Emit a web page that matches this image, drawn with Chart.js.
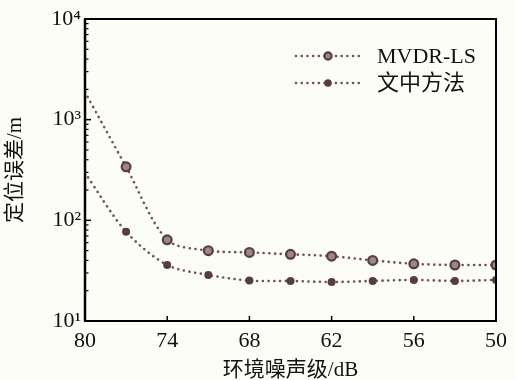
<!DOCTYPE html>
<html>
<head>
<meta charset="utf-8">
<script src="https://cdn.jsdelivr.net/npm/chart.js@4/dist/chart.umd.min.js"></script>
<style>
  html, body { margin: 0; padding: 0; background: #fdfdf8; }
  #wrap { width: 515px; height: 380px; }
</style>
</head>
<body>
<div id="wrap"><canvas id="c" width="515" height="380"></canvas></div>
<script>
const noiseLevels = [80, 77, 74, 71, 68, 65, 62, 59, 56, 53, 50];
const mvdrLS = [1880, 340, 64, 50, 48, 46, 44, 40, 37, 36, 36];
const proposed = [296, 77, 36, 28.7, 25.2, 25, 24.4, 25, 25.6, 25, 25.6];
const seriesNames = ['MVDR-LS', '文中方法'];
const xTickValues = [80, 74, 68, 62, 56, 50];
const yTickValues = [10, 100, 1000, 10000];
const yTickLabels = ['10¹', '10²', '10³', '10⁴'];
const xTitle = '环境噪声级/dB';
const yTitle = '定位误差/m';

const FONT = '"Liberation Serif", "Times New Roman", "Noto Sans CJK SC", serif';
const LINE_COLOR = '#735550';
const MARK_COLOR = '#553f3b';
const RING_FILL = '#9c8884';

const toPts = arr => noiseLevels.map((x, i) => ({ x: x, y: arr[i] }));
const radii = (r) => noiseLevels.map((x, i) => i === 0 ? 0 : r);

const bgPlugin = {
  id: 'bg',
  beforeDraw(chart) {
    const ctx = chart.ctx;
    ctx.save();
    ctx.fillStyle = '#fdfdf8';
    ctx.fillRect(0, 0, chart.width, chart.height);
    ctx.restore();
  }
};

const framePlugin = {
  id: 'frame',
  afterDatasetsDraw(chart) {
    const ctx = chart.ctx;
    const a = chart.chartArea;
    const xs = chart.scales.x, ys = chart.scales.y;
    ctx.save();
    ctx.strokeStyle = '#000';
    ctx.lineWidth = 2;
    ctx.strokeRect(a.left, a.top, a.right - a.left, a.bottom - a.top);
    ctx.lineWidth = 2.5;
    ctx.beginPath();
    ctx.moveTo(a.left, a.top); ctx.lineTo(a.left, a.bottom);
    ctx.stroke();
    ctx.lineWidth = 1.5;
    xTickValues.forEach(v => {
      const px = xs.getPixelForValue(v);
      ctx.beginPath();
      ctx.moveTo(px, a.bottom);
      ctx.lineTo(px, a.bottom - 5);
      ctx.stroke();
    });
    for (let k = 1; k < 4; k++) {
      for (let m = 1; m <= 9; m++) {
        const v = m * Math.pow(10, k);
        const py = ys.getPixelForValue(v);
        ctx.lineWidth = m === 1 ? 1.5 : 1.2;
        ctx.beginPath();
        ctx.moveTo(a.left, py);
        ctx.lineTo(a.left + (m === 1 ? 6 : 3.5), py);
        ctx.stroke();
      }
    }
    ctx.restore();
  }
};

const legendPlugin = {
  id: 'customLegend',
  afterDraw(chart) {
    const ctx = chart.ctx;
    const rows = [
      { y: 56, name: seriesNames[0], ring: true },
      { y: 83, name: seriesNames[1], ring: false }
    ];
    ctx.save();
    rows.forEach(r => {
      ctx.strokeStyle = LINE_COLOR;
      ctx.lineWidth = 2.6;
      ctx.lineCap = 'round';
      ctx.setLineDash([0.1, 5.6]);
      ctx.beginPath();
      ctx.moveTo(296, r.y);
      ctx.lineTo(361, r.y);
      ctx.stroke();
      ctx.setLineDash([]);
      ctx.beginPath();
      if (r.ring) {
        ctx.arc(328, r.y, 3.6, 0, Math.PI * 2);
        ctx.fillStyle = RING_FILL;
        ctx.fill();
        ctx.lineWidth = 2.2;
        ctx.strokeStyle = MARK_COLOR;
        ctx.stroke();
      } else {
        ctx.arc(328, r.y, 3.8, 0, Math.PI * 2);
        ctx.fillStyle = MARK_COLOR;
        ctx.fill();
      }
      ctx.fillStyle = '#111';
      ctx.font = '22px ' + FONT;
      ctx.textAlign = 'left';
      ctx.textBaseline = 'middle';
      ctx.fillText(r.name, 377, r.y + 1);
    });
    ctx.restore();
  }
};

new Chart(document.getElementById('c'), {
  type: 'line',
  data: {
    datasets: [
      {
        label: seriesNames[0],
        data: toPts(mvdrLS),
        borderColor: LINE_COLOR,
        borderWidth: 2.6,
        borderDash: [0.1, 5.6],
        borderCapStyle: 'round',
        pointRadius: radii(4.4),
        pointBorderWidth: 2.2,
        pointBackgroundColor: RING_FILL,
        pointBorderColor: MARK_COLOR,
        tension: 0.3,
        fill: false
      },
      {
        label: seriesNames[1],
        data: toPts(proposed),
        borderColor: LINE_COLOR,
        borderWidth: 2.6,
        borderDash: [0.1, 5.6],
        borderCapStyle: 'round',
        pointRadius: radii(4),
        pointBorderWidth: 0,
        pointBackgroundColor: MARK_COLOR,
        pointBorderColor: MARK_COLOR,
        tension: 0.3,
        fill: false
      }
    ]
  },
  options: {
    responsive: false,
    animation: false,
    devicePixelRatio: 1,
    layout: { padding: { left: 0, right: 19, top: 19, bottom: 0 } },
    plugins: { legend: { display: false }, tooltip: { enabled: false } },
    scales: {
      x: {
        type: 'linear',
        reverse: true,
        min: 50,
        max: 80,
        grid: { display: false, drawTicks: false },
        border: { display: false },
        afterBuildTicks: s => { s.ticks = xTickValues.map(v => ({ value: v })); },
        afterFit: s => { s.height = 59; },
        ticks: {
          padding: 7,
          color: '#111',
          font: { family: FONT, size: 22 },
          maxRotation: 0,
          callback: v => String(v)
        },
        title: {
          display: true,
          text: xTitle,
          color: '#111',
          font: { family: FONT, size: 21 },
          padding: { top: 0, bottom: -3 }
        }
      },
      y: {
        type: 'logarithmic',
        min: 10,
        max: 10000,
        grid: { display: false, drawTicks: false },
        border: { display: false },
        afterBuildTicks: s => { s.ticks = yTickValues.map(v => ({ value: v, major: true })); },
        afterFit: s => { s.width = 85; },
        ticks: {
          padding: 4,
          color: '#111',
          font: { family: FONT, size: 22 },
          callback: v => {
            const i = yTickValues.indexOf(v);
            return i >= 0 ? yTickLabels[i] : '';
          }
        },
        title: {
          display: true,
          text: yTitle,
          color: '#111',
          font: { family: FONT, size: 21 },
          padding: { top: 3, bottom: 0 }
        }
      }
    }
  },
  plugins: [bgPlugin, framePlugin, legendPlugin]
});
</script>
</body>
</html>
